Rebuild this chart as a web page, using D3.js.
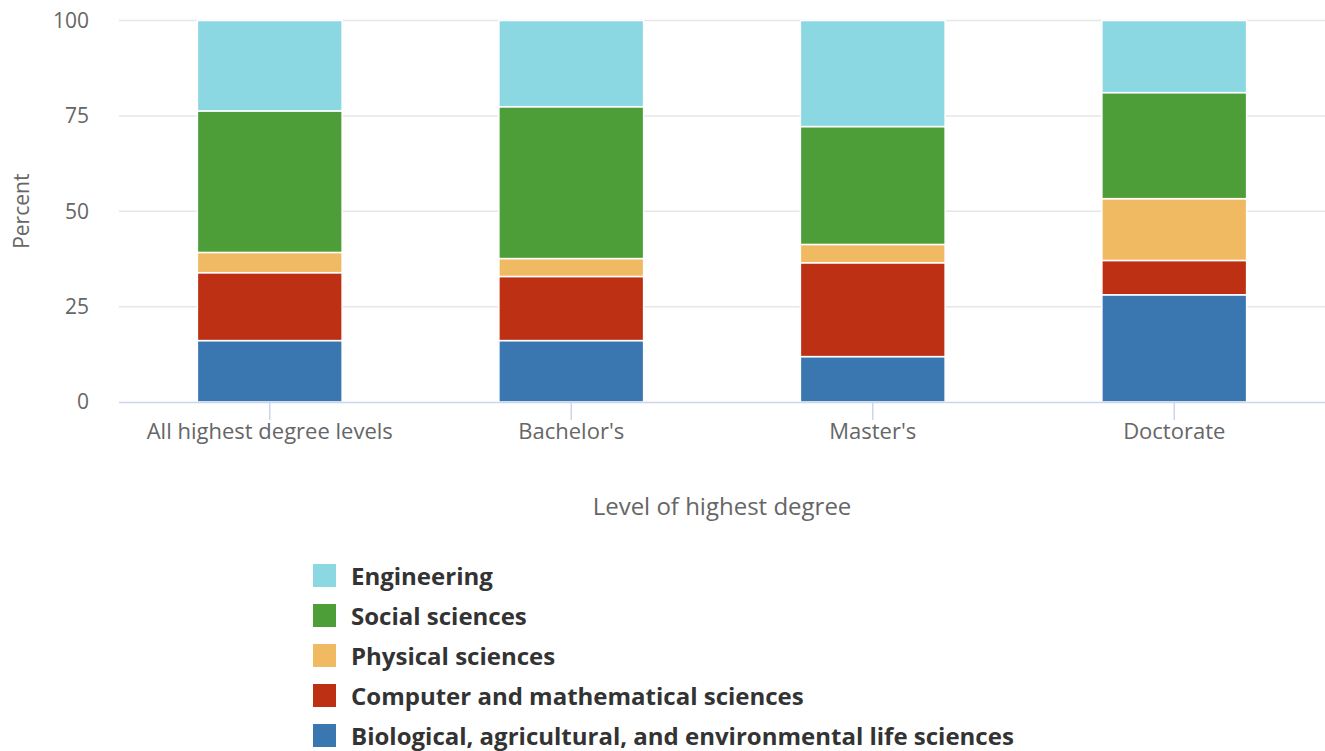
<!DOCTYPE html>
<html><head><meta charset="utf-8">
<script src="https://cdn.jsdelivr.net/npm/d3@7"></script>
<style>
html,body{margin:0;padding:0;background:#fff;}
svg{font-family:"Open Sans",sans-serif;display:block;}
</style></head>
<body>
<svg id="chart" width="1325" height="751"></svg>
<script>
const categories = ["All highest degree levels","Bachelor's","Master's","Doctorate"];
const seriesNames = ["Biological, agricultural, and environmental life sciences","Computer and mathematical sciences","Physical sciences","Social sciences","Engineering"];
const bio = [16.1, 16.1, 11.9, 28.1];
const comp = [17.8, 16.8, 24.6, 9.0];
const phys = [5.3, 4.7, 4.8, 16.2];
const social = [37.1, 39.8, 30.9, 27.8];
const eng = [23.7, 22.6, 27.8, 18.9];
const yTicks = [0, 25, 50, 75, 100];
const colors = ["#3a76b0","#bd3014","#f0ba62","#4d9e38","#8bd8e3"];

(function () {
const seriesValues = [bio, comp, phys, social, eng];
const rows = categories.map((c, i) => {
  const r = {cat: c};
  seriesNames.forEach((s, j) => r[s] = seriesValues[j][i]);
  return r;
});
const stacked = d3.stack().keys(seriesNames).offset(d3.stackOffsetExpand)(rows);

const svg = d3.select("#chart");
const mLeft = 119, mRight = 1325, mTop = 20.5, mBottom = 402;
const x = d3.scaleBand().domain(categories).range([mLeft, mRight]).paddingInner(0.52).paddingOuter(0.26);
const y = d3.scaleLinear().domain([0, 100]).range([mBottom, mTop]);

// gridlines
svg.append("g").selectAll("line").data(yTicks.filter(d => d > 0)).join("line")
  .attr("x1", mLeft).attr("x2", mRight)
  .attr("y1", d => y(d)).attr("y2", d => y(d))
  .attr("stroke", "#e6e6e6").attr("stroke-width", 1.5);

// y labels
svg.append("g").selectAll("text").data(yTicks).join("text")
  .attr("x", 89).attr("y", d => y(d)).attr("dy", "0.35em")
  .attr("text-anchor", "end").attr("fill", "#666").attr("font-size", 21)
  .text(d => d);

svg.append("text").attr("transform", `translate(29,${(mTop+mBottom)/2}) rotate(-90)`)
  .attr("text-anchor", "middle").attr("fill", "#666").attr("font-size", 21).text("Percent");

// bars
svg.append("g").selectAll("g").data(stacked).join("g")
  .attr("fill", (d, i) => colors[i])
  .selectAll("rect").data(d => d).join("rect")
  .attr("x", d => x(d.data.cat))
  .attr("width", x.bandwidth())
  .attr("y", d => y(d[1] * 100))
  .attr("height", d => y(d[0] * 100) - y(d[1] * 100))
  .attr("stroke", "#fff").attr("stroke-width", 1.5);

// x axis line & ticks
svg.append("line").attr("x1", mLeft).attr("x2", mRight).attr("y1", mBottom + 0.5).attr("y2", mBottom + 0.5)
  .attr("stroke", "#ccd6eb").attr("stroke-width", 1.5);
svg.append("g").selectAll("line").data(categories).join("line")
  .attr("x1", d => x(d) + x.bandwidth() / 2).attr("x2", d => x(d) + x.bandwidth() / 2)
  .attr("y1", mBottom).attr("y2", mBottom + 18)
  .attr("stroke", "#ccd6eb").attr("stroke-width", 1.5);
svg.append("g").selectAll("text").data(categories).join("text")
  .attr("x", d => x(d) + x.bandwidth() / 2).attr("y", 439)
  .attr("text-anchor", "middle").attr("fill", "#666").attr("font-size", 22)
  .text(d => d);

svg.append("text").attr("x", (mLeft + mRight) / 2).attr("y", 515)
  .attr("text-anchor", "middle").attr("fill", "#666").attr("font-size", 24)
  .text("Level of highest degree");

// legend
const legendOrder = seriesNames.slice().reverse();
const lg = svg.append("g").selectAll("g").data(legendOrder).join("g")
  .attr("transform", (d, i) => `translate(313,${564 + i * 40})`);
lg.append("rect").attr("width", 23).attr("height", 23)
  .attr("fill", d => colors[seriesNames.indexOf(d)]);
lg.append("text").attr("x", 38).attr("y", 13).attr("dy", "0.35em")
  .attr("fill", "#333").attr("font-size", 24).attr("font-weight", "bold")
  .text(d => d);
})();
</script>
</body></html>
